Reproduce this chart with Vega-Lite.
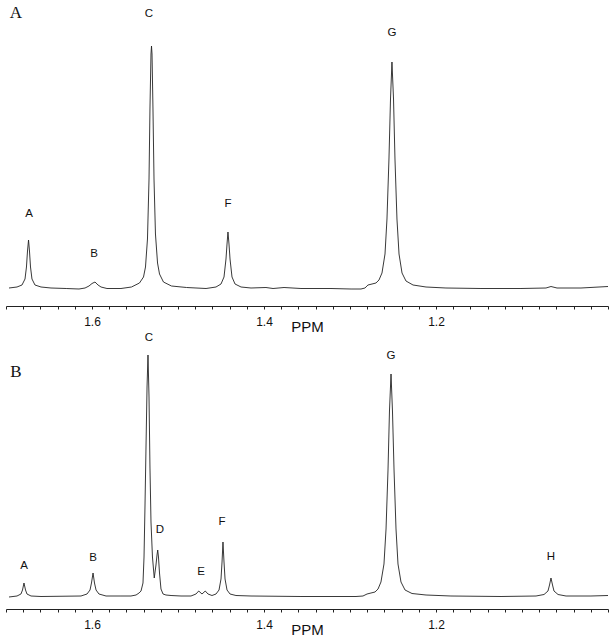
{
  "$schema": "https://vega.github.io/schema/vega-lite/v6.json",
  "padding": {"left": 5, "top": 0, "right": 8, "bottom": 0},
  "background": "white",
  "bounds": "flush",
  "spacing": 10,
  "config": {
    "view": {"stroke": null},
    "font": "Liberation Sans",
    "axis": {
      "grid": false,
      "domainColor": "#222",
      "tickColor": "#222",
      "tickSize": 3,
      "labelFont": "Liberation Sans",
      "labelFontSize": 12,
      "labelColor": "#111",
      "labelPadding": 7,
      "labelOverlap": false,
      "labelFlush": false,
      "labelBound": false,
      "titleFont": "Liberation Sans",
      "titleFontSize": 15,
      "titleFontWeight": "normal",
      "titleColor": "#111",
      "titlePadding": -8
    }
  },
  "datasets": {
    "spec": [
      {"p":"A","x":1.6965,"y":1},{"p":"A","x":1.6872,"y":2},{"p":"A","x":1.6814,"y":4},{"p":"A","x":1.6779,"y":10},{"p":"A","x":1.6762,"y":22},{"p":"A","x":1.6750,"y":38},{"p":"A","x":1.6738,"y":49},{"p":"A","x":1.6727,"y":38},{"p":"A","x":1.6715,"y":22},{"p":"A","x":1.6698,"y":10},{"p":"A","x":1.6663,"y":4},{"p":"A","x":1.6593,"y":2},{"p":"A","x":1.6477,"y":1},{"p":"A","x":1.6300,"y":0.5},
      {"p":"A","x":1.6151,"y":0},{"p":"A","x":1.6081,"y":1},{"p":"A","x":1.6035,"y":3},{"p":"A","x":1.6000,"y":5.5},{"p":"A","x":1.5965,"y":7},{"p":"A","x":1.5930,"y":4},{"p":"A","x":1.5895,"y":2},{"p":"A","x":1.5826,"y":0.5},{"p":"A","x":1.5663,"y":0.5},
      {"p":"A","x":1.5541,"y":2},{"p":"A","x":1.5448,"y":6},{"p":"A","x":1.5401,"y":12},{"p":"A","x":1.5378,"y":22},{"p":"A","x":1.5355,"y":50},{"p":"A","x":1.5337,"y":110},{"p":"A","x":1.5326,"y":180},{"p":"A","x":1.5314,"y":235},{"p":"A","x":1.5308,"y":243},{"p":"A","x":1.5302,"y":235},{"p":"A","x":1.5291,"y":180},{"p":"A","x":1.5279,"y":110},{"p":"A","x":1.5262,"y":55},{"p":"A","x":1.5238,"y":26},{"p":"A","x":1.5215,"y":15},{"p":"A","x":1.5169,"y":7},{"p":"A","x":1.5076,"y":3},{"p":"A","x":1.4900,"y":1.5},
      {"p":"A","x":1.4674,"y":0.5},{"p":"A","x":1.4558,"y":2},{"p":"A","x":1.4500,"y":5},{"p":"A","x":1.4465,"y":12},{"p":"A","x":1.4442,"y":30},{"p":"A","x":1.4430,"y":45},{"p":"A","x":1.4419,"y":57},{"p":"A","x":1.4407,"y":45},{"p":"A","x":1.4395,"y":30},{"p":"A","x":1.4372,"y":12},{"p":"A","x":1.4337,"y":5},{"p":"A","x":1.4267,"y":2},{"p":"A","x":1.4151,"y":1},{"p":"A","x":1.3977,"y":1.5},{"p":"A","x":1.3895,"y":0.5},{"p":"A","x":1.3767,"y":1.5},{"p":"A","x":1.3570,"y":0.5},{"p":"A","x":1.3221,"y":0.5},{"p":"A","x":1.2988,"y":0},
      {"p":"A","x":1.2872,"y":0},{"p":"A","x":1.2826,"y":1},{"p":"A","x":1.2791,"y":4},{"p":"A","x":1.2744,"y":5},{"p":"A","x":1.2698,"y":6},{"p":"A","x":1.2663,"y":9},{"p":"A","x":1.2628,"y":16},{"p":"A","x":1.2593,"y":35},{"p":"A","x":1.2570,"y":70},{"p":"A","x":1.2547,"y":130},{"p":"A","x":1.2529,"y":190},{"p":"A","x":1.2512,"y":227},{"p":"A","x":1.2494,"y":190},{"p":"A","x":1.2477,"y":130},{"p":"A","x":1.2454,"y":70},{"p":"A","x":1.2430,"y":35},{"p":"A","x":1.2395,"y":16},{"p":"A","x":1.2349,"y":8},{"p":"A","x":1.2267,"y":4},{"p":"A","x":1.2116,"y":2},{"p":"A","x":1.1884,"y":1},{"p":"A","x":1.1477,"y":0.5},{"p":"A","x":1.1012,"y":0.5},{"p":"A","x":1.0721,"y":1},{"p":"A","x":1.0663,"y":2.5},{"p":"A","x":1.0593,"y":1},{"p":"A","x":1.0314,"y":1},{"p":"A","x":1.0000,"y":2.5},
      {"p":"B","x":1.6965,"y":0},{"p":"B","x":1.6872,"y":1},{"p":"B","x":1.6826,"y":3},{"p":"B","x":1.6808,"y":7},{"p":"B","x":1.6791,"y":14},{"p":"B","x":1.6773,"y":7},{"p":"B","x":1.6756,"y":3},{"p":"B","x":1.6709,"y":1},{"p":"B","x":1.6593,"y":0.5},
      {"p":"B","x":1.6128,"y":1},{"p":"B","x":1.6058,"y":3},{"p":"B","x":1.6023,"y":7},{"p":"B","x":1.6006,"y":14},{"p":"B","x":1.5988,"y":24},{"p":"B","x":1.5971,"y":14},{"p":"B","x":1.5953,"y":7},{"p":"B","x":1.5919,"y":3},{"p":"B","x":1.5837,"y":1},{"p":"B","x":1.5663,"y":1},
      {"p":"B","x":1.5547,"y":1},{"p":"B","x":1.5488,"y":2},{"p":"B","x":1.5453,"y":4},{"p":"B","x":1.5430,"y":6},{"p":"B","x":1.5407,"y":14},{"p":"B","x":1.5395,"y":40},{"p":"B","x":1.5384,"y":90},{"p":"B","x":1.5372,"y":150},{"p":"B","x":1.5360,"y":210},{"p":"B","x":1.5349,"y":242},{"p":"B","x":1.5337,"y":200},{"p":"B","x":1.5326,"y":130},{"p":"B","x":1.5314,"y":75},{"p":"B","x":1.5297,"y":40},{"p":"B","x":1.5276,"y":19},{"p":"B","x":1.5256,"y":32},{"p":"B","x":1.5244,"y":42},{"p":"B","x":1.5236,"y":47},{"p":"B","x":1.5227,"y":40},{"p":"B","x":1.5215,"y":24},{"p":"B","x":1.5198,"y":8},{"p":"B","x":1.5174,"y":3},{"p":"B","x":1.5140,"y":2},{"p":"B","x":1.5081,"y":1.5},{"p":"B","x":1.4965,"y":1},
      {"p":"B","x":1.4849,"y":1},{"p":"B","x":1.4791,"y":3},{"p":"B","x":1.4759,"y":6},{"p":"B","x":1.4721,"y":3},{"p":"B","x":1.4683,"y":6},{"p":"B","x":1.4651,"y":3},{"p":"B","x":1.4605,"y":1.5},
      {"p":"B","x":1.4558,"y":3},{"p":"B","x":1.4523,"y":7},{"p":"B","x":1.4500,"y":18},{"p":"B","x":1.4488,"y":35},{"p":"B","x":1.4477,"y":55},{"p":"B","x":1.4465,"y":35},{"p":"B","x":1.4453,"y":18},{"p":"B","x":1.4430,"y":7},{"p":"B","x":1.4395,"y":3},{"p":"B","x":1.4326,"y":1.5},{"p":"B","x":1.4151,"y":1},{"p":"B","x":1.3570,"y":0.5},{"p":"B","x":1.2930,"y":0.5},
      {"p":"B","x":1.2849,"y":1},{"p":"B","x":1.2802,"y":3},{"p":"B","x":1.2756,"y":4},{"p":"B","x":1.2709,"y":5},{"p":"B","x":1.2674,"y":8},{"p":"B","x":1.2640,"y":15},{"p":"B","x":1.2605,"y":33},{"p":"B","x":1.2581,"y":68},{"p":"B","x":1.2558,"y":127},{"p":"B","x":1.2541,"y":186},{"p":"B","x":1.2523,"y":223},{"p":"B","x":1.2506,"y":186},{"p":"B","x":1.2488,"y":127},{"p":"B","x":1.2465,"y":68},{"p":"B","x":1.2442,"y":33},{"p":"B","x":1.2407,"y":15},{"p":"B","x":1.2360,"y":7},{"p":"B","x":1.2279,"y":3.5},{"p":"B","x":1.2116,"y":2},{"p":"B","x":1.1826,"y":1},{"p":"B","x":1.1244,"y":0.5},
      {"p":"B","x":1.0837,"y":1},{"p":"B","x":1.0744,"y":2.5},{"p":"B","x":1.0698,"y":6},{"p":"B","x":1.0680,"y":12},{"p":"B","x":1.0663,"y":19},{"p":"B","x":1.0645,"y":12},{"p":"B","x":1.0628,"y":6},{"p":"B","x":1.0581,"y":2.5},{"p":"B","x":1.0488,"y":1},{"p":"B","x":1.0198,"y":1},{"p":"B","x":1.0000,"y":1.5}
    ],
    "labels": [
      {"p":"A","x":1.6733,"y":75,"t":"A"},{"p":"A","x":1.5977,"y":35,"t":"B"},{"p":"A","x":1.5337,"y":275,"t":"C"},{"p":"A","x":1.4419,"y":85,"t":"F"},{"p":"A","x":1.2512,"y":256,"t":"G"},
      {"p":"B","x":1.6791,"y":31,"t":"A"},{"p":"B","x":1.5988,"y":39,"t":"B"},{"p":"B","x":1.5337,"y":259,"t":"C"},{"p":"B","x":1.5209,"y":67,"t":"D"},{"p":"B","x":1.4733,"y":25,"t":"E"},{"p":"B","x":1.4488,"y":75,"t":"F"},{"p":"B","x":1.2523,"y":241,"t":"G"},{"p":"B","x":1.0663,"y":40,"t":"H"}
    ],
    "panels": [
      {"p":"A","x":1.6884,"y":276,"t":"A"},
      {"p":"B","x":1.6884,"y":225,"t":"B"}
    ]
  },
  "vconcat": [
    {
      "width": 602,
      "height": 306,
      "encoding": {
        "x": {"field": "x", "type": "quantitative", "scale": {"domain": [1.70, 1.00], "nice": false, "zero": false},
          "axis": {"title": "PPM", "format": ".2f", "values": [1.70,1.68,1.66,1.64,1.62,1.60,1.58,1.56,1.54,1.52,1.50,1.48,1.46,1.44,1.42,1.40,1.38,1.36,1.34,1.32,1.30,1.28,1.26,1.24,1.22,1.20,1.18,1.16,1.14,1.12,1.10,1.08,1.06,1.04,1.02,1.00],
            "labelExpr": "datum.label == '1.60' ? '1.6' : datum.label == '1.40' ? '1.4' : datum.label == '1.20' ? '1.2' : ''"}},
        "y": {"field": "y", "type": "quantitative", "scale": {"domain": [-17, 289], "nice": false, "zero": false}, "axis": null}
      },
      "layer": [
        {
          "data": {"name": "spec"},
          "transform": [{"filter": "datum.p == 'A'"}],
          "mark": {"type": "line", "color": "#222", "strokeWidth": 0.9, "clip": true}
        },
        {
          "data": {"name": "labels"},
          "transform": [{"filter": "datum.p == 'A'"}],
          "mark": {"type": "text", "fontSize": 11.5, "font": "Liberation Sans", "color": "#111", "baseline": "middle", "align": "center"},
          "encoding": {"text": {"field": "t"}}
        },
        {
          "data": {"name": "panels"},
          "transform": [{"filter": "datum.p == 'A'"}],
          "mark": {"type": "text", "fontSize": 17, "font": "Liberation Serif", "color": "#111", "baseline": "middle", "align": "center"},
          "encoding": {"text": {"field": "t"}}
        }
      ]
    },
    {
      "width": 602,
      "height": 293,
      "encoding": {
        "x": {"field": "x", "type": "quantitative", "scale": {"domain": [1.70, 1.00], "nice": false, "zero": false},
          "axis": {"title": "PPM", "format": ".2f", "values": [1.70,1.68,1.66,1.64,1.62,1.60,1.58,1.56,1.54,1.52,1.50,1.48,1.46,1.44,1.42,1.40,1.38,1.36,1.34,1.32,1.30,1.28,1.26,1.24,1.22,1.20,1.18,1.16,1.14,1.12,1.10,1.08,1.06,1.04,1.02,1.00],
            "labelExpr": "datum.label == '1.60' ? '1.6' : datum.label == '1.40' ? '1.4' : datum.label == '1.20' ? '1.2' : ''"}},
        "y": {"field": "y", "type": "quantitative", "scale": {"domain": [-12, 281], "nice": false, "zero": false}, "axis": null}
      },
      "layer": [
        {
          "data": {"name": "spec"},
          "transform": [{"filter": "datum.p == 'B'"}],
          "mark": {"type": "line", "color": "#222", "strokeWidth": 0.9, "clip": true}
        },
        {
          "data": {"name": "labels"},
          "transform": [{"filter": "datum.p == 'B'"}],
          "mark": {"type": "text", "fontSize": 11.5, "font": "Liberation Sans", "color": "#111", "baseline": "middle", "align": "center"},
          "encoding": {"text": {"field": "t"}}
        },
        {
          "data": {"name": "panels"},
          "transform": [{"filter": "datum.p == 'B'"}],
          "mark": {"type": "text", "fontSize": 17, "font": "Liberation Serif", "color": "#111", "baseline": "middle", "align": "center"},
          "encoding": {"text": {"field": "t"}}
        }
      ]
    }
  ]
}
